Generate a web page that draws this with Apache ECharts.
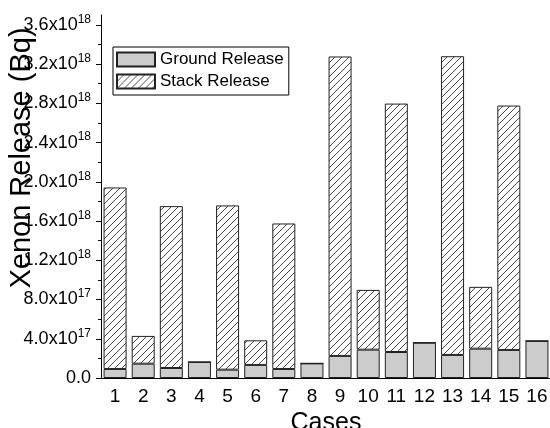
<!DOCTYPE html>
<html>
<head>
<meta charset="utf-8">
<script src="https://cdn.jsdelivr.net/npm/echarts@6/dist/echarts.min.js"></script>
<style>
  html, body { margin: 0; padding: 0; background: #fff; }
  #chart { width: 550px; height: 428px; }
</style>
</head>
<body>
<div id="chart"></div>
<script>
// Xenon release per case, split into ground-level and stack releases (Bq)
const cases = ['1', '2', '3', '4', '5', '6', '7', '8', '9', '10', '11', '12', '13', '14', '15', '16'];
const groundRelease = [0.92e17, 1.46e17, 1.02e17, 1.63e17, 0.85e17, 1.33e17, 0.92e17, 1.49e17,
                       2.25e17, 2.89e17, 2.65e17, 3.60e17, 2.35e17, 2.99e17, 2.86e17, 3.78e17];
const stackRelease  = [1.850e18, 2.83e17, 1.650e18, 0, 1.674e18, 2.51e17, 1.483e18, 0,
                       3.052e18, 6.09e17, 2.532e18, 0, 3.045e18, 6.30e17, 2.491e18, 0];

// y-axis tick values and their labels (mantissa x 10^exponent)
const yTickValues    = [0, 4e17, 8e17, 1.2e18, 1.6e18, 2.0e18, 2.4e18, 2.8e18, 3.2e18, 3.6e18];
const yTickMantissas = ['0.0', '4.0', '8.0', '1.2', '1.6', '2.0', '2.4', '2.8', '3.2', '3.6'];
const yTickExponents = ['', '17', '17', '18', '18', '18', '18', '18', '18', '18'];
const yMinorTickValues = [2e17, 6e17, 1.0e18, 1.4e18, 1.8e18, 2.2e18, 2.6e18, 3.0e18, 3.4e18];
const yMax = 3.7e18;

const FONT = "'Liberation Sans', Arial, Helvetica, sans-serif";

// diagonal "/" hatch used for the stack release bars
function makeHatch() {
  const s = 7;
  const c = document.createElement('canvas');
  c.width = s; c.height = s;
  const g = c.getContext('2d');
  g.fillStyle = '#ffffff';
  g.fillRect(0, 0, s, s);
  g.strokeStyle = '#333333';
  g.lineWidth = 0.9;
  g.beginPath();
  g.moveTo(-1, s + 1); g.lineTo(s + 1, -1);
  g.moveTo(-1, 1);     g.lineTo(1, -1);
  g.moveTo(s - 1, s + 1); g.lineTo(s + 1, s - 1);
  g.stroke();
  return c;
}

function yLabel(v) {
  let idx = 0;
  for (let i = 0; i < yTickValues.length; i++) {
    if (Math.abs(yTickValues[i] - v) < 1e15) { idx = i; break; }
  }
  const m = yTickMantissas[idx];
  const e = yTickExponents[idx];
  return e ? '{b|' + m + 'x10}{s|' + e + '}' : '{b|' + m + '}';
}

const chart = echarts.init(document.getElementById('chart'), null, { renderer: 'canvas' });

chart.setOption({
  animation: false,
  backgroundColor: '#ffffff',
  grid: { left: 101, right: -1, top: 15, bottom: 50, containLabel: false, outerBoundsMode: 'none' },
  legend: {
    orient: 'vertical',
    left: 113,
    top: 47,
    icon: 'rect',
    itemWidth: 38,
    itemHeight: 14,
    itemGap: 5,
    padding: [4, 5, 5, 3],
    borderColor: '#000',
    borderWidth: 1,
    textStyle: { fontSize: 17, color: '#000', fontFamily: FONT },
    data: ['Ground Release', 'Stack Release']
  },
  xAxis: [{
    type: 'category',
    data: cases,
    boundaryGap: true,
    position: 'bottom',
    axisLine: { lineStyle: { color: '#000', width: 1 } },
    axisTick: { alignWithLabel: true, length: 5, lineStyle: { color: '#000', width: 1 } },
    axisLabel: { interval: 0, fontSize: 19, color: '#000', margin: 9, fontFamily: FONT },
    name: 'Cases',
    nameLocation: 'middle',
    nameGap: 23,
    nameTextStyle: { fontSize: 25, color: '#000', fontFamily: FONT }
  }, {
    type: 'category',
    data: cases,
    boundaryGap: true,
    position: 'bottom',
    axisLine: { show: false },
    axisTick: { length: 3, lineStyle: { color: '#000', width: 1 } },
    axisLabel: { show: false }
  }],
  yAxis: [{
    type: 'value',
    min: 0,
    max: yMax,
    position: 'left',
    splitLine: { show: false },
    axisLine: { show: true, lineStyle: { color: '#000', width: 1 } },
    axisTick: { show: true, customValues: yTickValues, length: 5, lineStyle: { color: '#000', width: 1 } },
    axisLabel: {
      customValues: yTickValues,
      margin: 10,
      formatter: yLabel,
      rich: {
        b: { fontSize: 18, fontFamily: FONT, color: '#000', lineHeight: 30, verticalAlign: 'middle' },
        s: { fontSize: 12, fontFamily: FONT, color: '#000', lineHeight: 30, verticalAlign: 'middle', padding: [0, 0, 11, 0] }
      }
    }
  }, {
    type: 'value',
    min: 0,
    max: yMax,
    position: 'left',
    splitLine: { show: false },
    axisLine: { show: false },
    axisTick: { show: true, customValues: yMinorTickValues, length: 3, lineStyle: { color: '#000', width: 1 } },
    axisLabel: { show: false }
  }],
  graphic: [{
    type: 'text',
    x: 22,
    y: 158,
    rotation: Math.PI / 2,
    style: {
      text: 'Xenon Release (Bq)',
      fontSize: 29,
      fontFamily: FONT,
      fill: '#000',
      align: 'center',
      verticalAlign: 'middle'
    },
    z: 100
  }],
  series: [{
    name: 'Ground Release',
    type: 'bar',
    stack: 'total',
    xAxisIndex: 0,
    yAxisIndex: 0,
    barWidth: 23,
    data: groundRelease,
    itemStyle: { color: '#cccccc', borderColor: '#222', borderWidth: 1 }
  }, {
    name: 'Stack Release',
    type: 'bar',
    stack: 'total',
    xAxisIndex: 0,
    yAxisIndex: 0,
    barWidth: 23,
    data: stackRelease,
    itemStyle: { color: { image: makeHatch(), repeat: 'repeat' }, borderColor: '#222', borderWidth: 1 }
  }]
});
</script>
</body>
</html>
